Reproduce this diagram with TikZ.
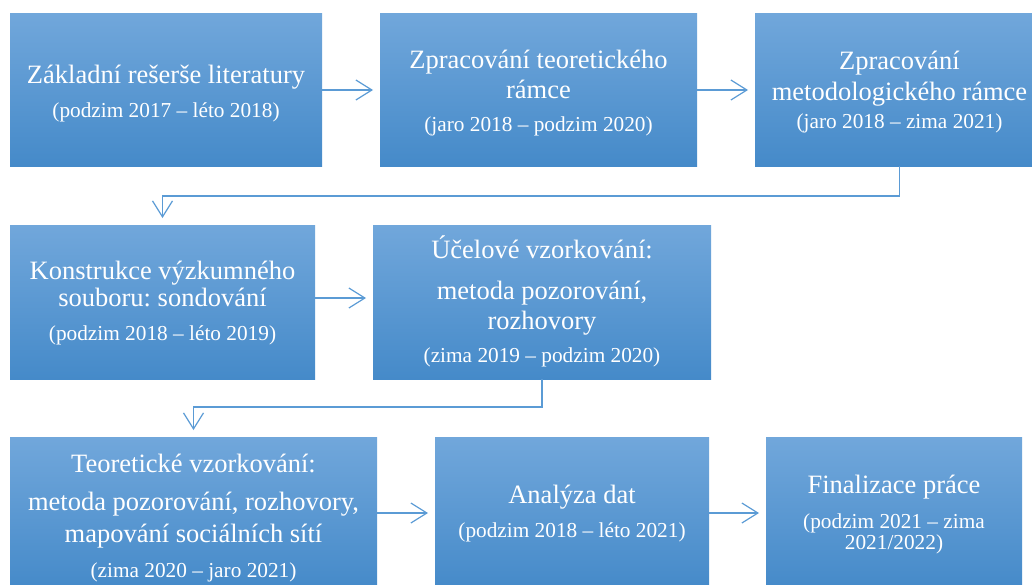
\documentclass[tikz,border=0pt]{standalone}
\usepackage{fontspec}
\setmainfont{Liberation Serif}
\frenchspacing
\usetikzlibrary{arrows.meta}

\definecolor{boxtop}{RGB}{113,167,219}
\definecolor{boxbottom}{RGB}{69,138,201}
\definecolor{linkblue}{RGB}{91,155,213}

\tikzset{
  stage/.style={rectangle, inner sep=0pt, outer sep=0pt, draw=none,
    top color=boxtop, bottom color=boxbottom},
  titleline/.style={anchor=base, text=white, inner sep=0pt,
    font=\fontsize{26.5}{30}\selectfont},
  dateline/.style={anchor=base, text=white, inner sep=0pt,
    font=\fontsize{21.3}{24}\selectfont},
  link/.style={draw=linkblue, line width=1.2pt,
    -{Straight Barb[length=16pt,width=20pt,line width=1.2pt]}},
}

% stage box: name, left, top, right, bottom (pixel grid, y downwards)
\newcommand{\stagebox}[5]{%
  \node[stage, minimum width={(#4-#2)*1pt}, minimum height={(#5-#3)*1pt}]
    (#1) at ({(#2+#4)/2},{(#3+#5)/2}) {};%
}

\begin{document}
\begin{tikzpicture}[x=1pt, y=-1pt]
\useasboundingbox (0,0) rectangle (1032,584);
\clip (0,0) rectangle (1032,584);

% ---- boxes ----
\stagebox{A}{10}{13}{322}{166}
\stagebox{B}{380}{13}{697}{166}
\stagebox{C}{755}{13}{1044}{166}
\stagebox{D}{10}{225}{315}{379}
\stagebox{E}{373}{225}{711}{379}
\stagebox{F}{10}{437}{377}{589}
\stagebox{G}{435}{437}{709}{589}
\stagebox{H}{766}{437}{1022}{589}

% ---- texts ----
\node[titleline] (A1) at (166,83) {Základní rešerše literatury};
\node[dateline]  (A2) at (166,117) {(podzim 2017 – léto 2018)};

\node[titleline] (B1) at (538.5,68) {Zpracování teoretického};
\node[titleline] (B2) at (538.5,98) {rámce};
\node[dateline]  (B3) at (538.5,131) {(jaro 2018 – podzim 2020)};

\node[titleline] (C1) at (899.5,69) {Zpracování};
\node[titleline] (C2) at (899.5,100) {metodologického rámce};
\node[dateline]  (C3) at (899.5,128) {(jaro 2018 – zima 2021)};

\node[titleline] (D1) at (162.5,279) {Konstrukce výzkumného};
\node[titleline] (D2) at (162.5,306) {souboru: sondování};
\node[dateline]  (D3) at (162.5,340) {(podzim 2018 – léto 2019)};

\node[titleline] (E1) at (542,258) {Účelové vzorkování:};
\node[titleline] (E2) at (542,299) {metoda pozorování,};
\node[titleline] (E3) at (542,329) {rozhovory};
\node[dateline]  (E4) at (542,362) {(zima 2019 – podzim 2020)};

\node[titleline] (F1) at (193.5,472) {Teoretické vzorkování:};
\node[titleline] (F2) at (193.5,510) {metoda pozorování, rozhovory,};
\node[titleline] (F3) at (193.5,542) {mapování sociálních sítí};
\node[dateline]  (F4) at (193.5,577) {(zima 2020 – jaro 2021)};

\node[titleline] (G1) at (572,503) {Analýza dat};
\node[dateline]  (G2) at (572,537) {(podzim 2018 – léto 2021)};

\node[titleline] (H1) at (894,493) {Finalizace práce};
\node[dateline]  (H2) at (894,528) {(podzim 2021 – zima};
\node[dateline]  (H3) at (894,549) {2021/2022)};

% ---- connectors ----
\draw[link, shorten >=7pt] (A.east |- 0,90) -- (B.west |- 0,90);
\draw[link, shorten >=7pt] (B.east |- 0,90) -- (C.west |- 0,90);
\draw[link, shorten >=7pt] (D.east |- 0,298) -- (E.west |- 0,298);
\draw[link, shorten >=7pt] (F.east |- 0,513) -- (G.west |- 0,513);
\draw[link, shorten >=7pt] (G.east |- 0,513) -- (H.west |- 0,513);

\draw[link, shorten >=7pt] (C.south) |- (D.north |- 0,196) -- (D.north);
\draw[link, shorten >=7pt] (E.south) |- (F.north |- 0,407) -- (F.north);
\end{tikzpicture}
\end{document}
